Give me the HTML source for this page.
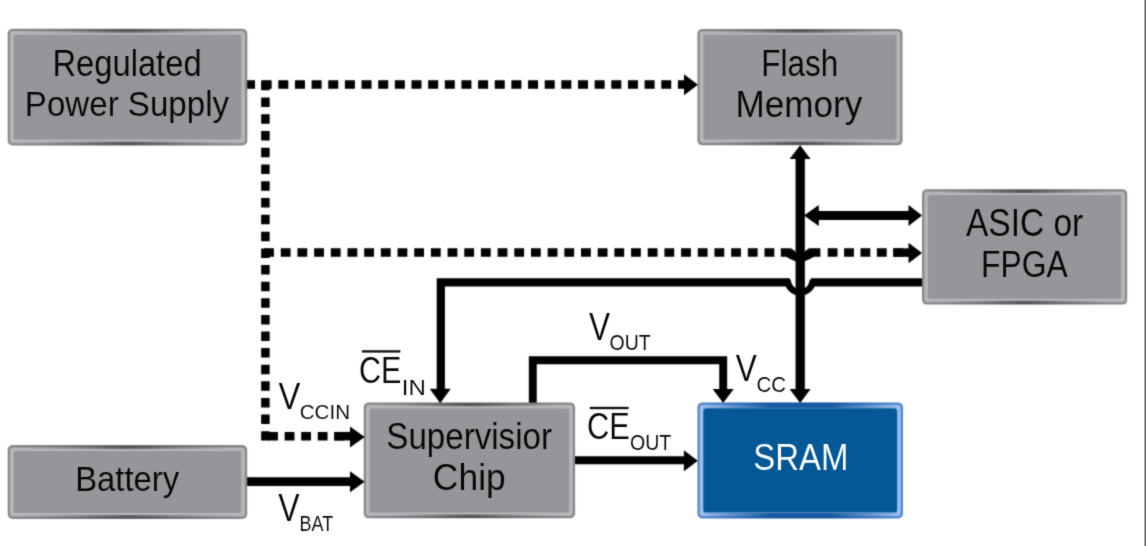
<!DOCTYPE html>
<html lang="en">
<head>
<meta charset="utf-8">
<title>SRAM battery backup block diagram</title>
<style>
html,body{margin:0;padding:0;background:#fff;}
body{width:1146px;height:546px;overflow:hidden;}
svg{display:block;font-family:"Liberation Sans", sans-serif;}
</style>
</head>
<body>
<svg width="1146" height="546" viewBox="0 0 1146 546">
<defs>
<linearGradient id="sheen" x1="0" y1="0" x2="1" y2="0">
<stop offset="0" stop-color="#454648" stop-opacity="0"/>
<stop offset="0.12" stop-color="#454648" stop-opacity="0.1"/>
<stop offset="0.3" stop-color="#454648" stop-opacity="0.38"/>
<stop offset="0.42" stop-color="#424345" stop-opacity="0.64"/>
<stop offset="0.5" stop-color="#3c3d3f" stop-opacity="0.74"/>
<stop offset="0.58" stop-color="#424345" stop-opacity="0.64"/>
<stop offset="0.7" stop-color="#454648" stop-opacity="0.38"/>
<stop offset="0.88" stop-color="#454648" stop-opacity="0.1"/>
<stop offset="1" stop-color="#454648" stop-opacity="0"/>
</linearGradient>
<linearGradient id="bsheen" x1="0" y1="0" x2="1" y2="0">
<stop offset="0" stop-color="#0a4f98" stop-opacity="0"/>
<stop offset="0.12" stop-color="#0a4f98" stop-opacity="0.3"/>
<stop offset="0.35" stop-color="#0a4f98" stop-opacity="0.9"/>
<stop offset="0.65" stop-color="#0a4f98" stop-opacity="0.9"/>
<stop offset="0.88" stop-color="#0a4f98" stop-opacity="0.3"/>
<stop offset="1" stop-color="#0a4f98" stop-opacity="0"/>
</linearGradient>
<filter id="soft" x="-2%" y="-2%" width="104%" height="104%" color-interpolation-filters="sRGB"><feConvolveMatrix order="3" kernelMatrix="0.0289 0.1122 0.0289 0.1122 0.4356 0.1122 0.0289 0.1122 0.0289" edgeMode="duplicate"/></filter>
<filter id="softt" x="-2%" y="-2%" width="104%" height="104%" color-interpolation-filters="sRGB"><feConvolveMatrix order="3" kernelMatrix="0.0144 0.0912 0.0144 0.0912 0.5776 0.0912 0.0144 0.0912 0.0144" edgeMode="duplicate"/></filter>
</defs>
<rect width="1146" height="546" fill="#fff"/>
<g filter="url(#soft)">
<path d="M245.0 84.4 H686" fill="none" stroke="#000" stroke-width="8.5" stroke-dasharray="10 6.65" stroke-dashoffset="0"/>
<path d="M265.4 80.7 V248.4" fill="none" stroke="#000" stroke-width="8.5" stroke-dasharray="9.5 7.27" stroke-dashoffset="0"/>
<path d="M265.4 248.4 V440.5" fill="none" stroke="#000" stroke-width="8.5" stroke-dasharray="9.5 7.12" stroke-dashoffset="0"/>
<path d="M264.1 252.6 H781.0" fill="none" stroke="#000" stroke-width="8.5" stroke-dasharray="9.8 6.88" stroke-dashoffset="0"/>
<path d="M827.7 252.6 H902.9" fill="none" stroke="#000" stroke-width="8.5" stroke-dasharray="9.8 6.6" stroke-dashoffset="0"/>
<path d="M893.3 252.6 H910" fill="none" stroke="#000" stroke-width="8.5"/>
<path d="M780.8 248.35 H790.6 Q793.8 249.4 796.6 253.2 V261.8 Q790.4 259.6 786.0 256.85 H780.8 Z" fill="#000"/>
<path d="M820.4 248.35 H809.4 Q806.2 249.4 803.4 253.2 V261.8 Q809.6 259.6 814.0 256.85 H820.4 Z" fill="#000"/>
<path d="M796 259 Q800 263.5 804 259 Z" fill="#000"/>
<path d="M268.1 436.2 H343.8" fill="none" stroke="#000" stroke-width="8.5" stroke-dasharray="9.8 6.75" stroke-dashoffset="0"/>
<path d="M334.3 436.2 H352" fill="none" stroke="#000" stroke-width="8.5"/>
<path d="M800.2 157 V391" fill="none" stroke="#000" stroke-width="9.3"/>
<path d="M816 215.5 H910" fill="none" stroke="#000" stroke-width="8.9"/>
<path d="M924 282.4 H810.7" fill="none" stroke="#000" stroke-width="8.2"/>
<path d="M790.0 282.4 H440.8 V391" fill="none" stroke="#000" stroke-width="8.2"/>
<path d="M787.50 279.80 A12.7 12.7 0 0 0 812.90 279.80" fill="none" stroke="#000" stroke-width="6.5"/>
<path d="M532.8 404 V360.2 H723.2 V391" fill="none" stroke="#000" stroke-width="7.9"/>
<path d="M573 460.2 H686" fill="none" stroke="#000" stroke-width="8.0"/>
<path d="M246 481.6 H352" fill="none" stroke="#000" stroke-width="8.6"/>
<rect x="7.70" y="28.80" width="239.60" height="116.70" rx="4.8" fill="#87898c"/>
<rect x="10.00" y="31.10" width="235.00" height="112.10" rx="3.2" fill="#b4b6ba"/>
<rect x="10.70" y="29.10" width="233.60" height="3.5" fill="url(#sheen)"/>
<rect x="10.70" y="141.70" width="233.60" height="3.5" fill="url(#sheen)"/>
<rect x="13.60" y="34.70" width="227.80" height="104.90" rx="2.8" fill="#949699"/>
<rect x="697.40" y="28.90" width="205.10" height="116.40" rx="4.8" fill="#87898c"/>
<rect x="699.70" y="31.20" width="200.50" height="111.80" rx="3.2" fill="#b4b6ba"/>
<rect x="700.40" y="29.20" width="199.10" height="3.5" fill="url(#sheen)"/>
<rect x="700.40" y="141.50" width="199.10" height="3.5" fill="url(#sheen)"/>
<rect x="703.30" y="34.80" width="193.30" height="104.60" rx="2.8" fill="#949699"/>
<rect x="922.00" y="189.20" width="205.20" height="115.40" rx="4.8" fill="#87898c"/>
<rect x="924.30" y="191.50" width="200.60" height="110.80" rx="3.2" fill="#b4b6ba"/>
<rect x="925.00" y="189.50" width="199.20" height="3.5" fill="url(#sheen)"/>
<rect x="925.00" y="300.80" width="199.20" height="3.5" fill="url(#sheen)"/>
<rect x="927.90" y="195.10" width="193.40" height="103.60" rx="2.8" fill="#949699"/>
<rect x="7.70" y="445.10" width="239.50" height="73.80" rx="4.8" fill="#87898c"/>
<rect x="10.00" y="447.40" width="234.90" height="69.20" rx="3.2" fill="#b4b6ba"/>
<rect x="10.70" y="445.40" width="233.50" height="3.5" fill="url(#sheen)"/>
<rect x="10.70" y="515.10" width="233.50" height="3.5" fill="url(#sheen)"/>
<rect x="13.60" y="451.00" width="227.70" height="62.00" rx="2.8" fill="#949699"/>
<rect x="363.70" y="402.50" width="211.40" height="115.80" rx="4.8" fill="#87898c"/>
<rect x="366.00" y="404.80" width="206.80" height="111.20" rx="3.2" fill="#b4b6ba"/>
<rect x="366.70" y="402.80" width="205.40" height="3.5" fill="url(#sheen)"/>
<rect x="366.70" y="514.50" width="205.40" height="3.5" fill="url(#sheen)"/>
<rect x="369.60" y="408.40" width="199.60" height="104.00" rx="2.8" fill="#949699"/>
<rect x="697.40" y="402.40" width="205.60" height="116.10" rx="4.8" fill="#5488cc"/>
<rect x="699.70" y="404.70" width="201.00" height="111.50" rx="3.2" fill="#9cbeee"/>
<rect x="700.40" y="402.70" width="199.60" height="5.2" fill="url(#bsheen)"/>
<rect x="700.40" y="513.00" width="199.60" height="5.2" fill="url(#bsheen)"/>
<rect x="703.30" y="408.30" width="193.80" height="104.30" rx="2.8" fill="#045897"/>
<polygon points="697.90,84.80 684.00,74.30 684.00,95.30" fill="#000"/>
<polygon points="922.00,253.00 908.50,242.80 908.50,263.20" fill="#000"/>
<polygon points="364.70,436.90 350.00,426.40 350.00,447.40" fill="#000"/>
<polygon points="800.10,145.20 789.60,159.10 810.60,159.10" fill="#000"/>
<polygon points="800.10,402.90 789.60,389.00 810.60,389.00" fill="#000"/>
<polygon points="804.00,215.50 818.80,205.00 818.80,226.00" fill="#000"/>
<polygon points="922.00,215.50 908.50,205.00 908.50,226.00" fill="#000"/>
<polygon points="440.20,403.30 429.70,388.70 450.70,388.70" fill="#000"/>
<polygon points="723.20,402.90 712.70,389.00 733.70,389.00" fill="#000"/>
<polygon points="697.80,460.70 683.90,450.20 683.90,471.20" fill="#000"/>
<polygon points="364.60,481.80 350.00,471.30 350.00,492.30" fill="#000"/>
</g>
<g filter="url(#softt)">
<text transform="translate(52.42 75.92) scale(0.9076 1)" font-size="36.06" fill="#060606" stroke="#949699" stroke-width="0.12">Regulated</text>
<text transform="translate(24.79 115.86) scale(0.9321 1)" font-size="35.54" fill="#060606" stroke="#949699" stroke-width="0.12">Power Supply</text>
<text transform="translate(761.33 76.26) scale(0.8625 1)" font-size="36.41" fill="#060606" stroke="#949699" stroke-width="0.12">Flash</text>
<text transform="translate(735.43 117.46) scale(0.9658 1)" font-size="36.41" fill="#060606" stroke="#949699" stroke-width="0.12">Memory</text>
<text transform="translate(965.94 235.76) scale(0.8819 1)" font-size="38.00" fill="#060606" stroke="#949699" stroke-width="0.12">ASIC or</text>
<text transform="translate(981.09 277.46) scale(0.8582 1)" font-size="37.13" fill="#060606" stroke="#949699" stroke-width="0.12">FPGA</text>
<text transform="translate(75.21 490.76) scale(0.9127 1)" font-size="35.97" fill="#060606" stroke="#949699" stroke-width="0.12">Battery</text>
<text transform="translate(386.28 449.10) scale(0.9113 1)" font-size="36.37" fill="#060606" stroke="#949699" stroke-width="0.12">Supervisior</text>
<text transform="translate(432.87 490.30) scale(0.9777 1)" font-size="36.23" fill="#060606" stroke="#949699" stroke-width="0.12">Chip</text>
<text transform="translate(753.19 469.98) scale(0.8730 1)" font-size="37.77" fill="#fff" stroke="#045897" stroke-width="0.12">SRAM</text>
<text transform="translate(278.41 409.06) scale(0.8765 1)" font-size="37.42" fill="#060606" stroke="#fff" stroke-width="0.12">V</text>
<text transform="translate(299.73 418.83) scale(0.9828 1)" font-size="20.96" fill="#060606" stroke="#fff" stroke-width="0.08">CCIN</text>
<text transform="translate(278.32 520.56) scale(0.8397 1)" font-size="38.14" fill="#060606" stroke="#fff" stroke-width="0.12">V</text>
<text transform="translate(299.51 531.44) scale(0.8213 1)" font-size="22.00" fill="#060606" stroke="#fff" stroke-width="0.08">BAT</text>
<text transform="translate(358.91 382.70) scale(0.8402 1)" font-size="36.37" fill="#060606" stroke="#fff" stroke-width="0.12">CE</text>
<text transform="translate(401.79 394.54) scale(1.1015 1)" font-size="21.86" fill="#060606" stroke="#fff" stroke-width="0.08">IN</text>
<rect x="362.0" y="350.2" width="38.3" height="2.4" fill="#141414"/>
<text transform="translate(589.02 339.76) scale(0.8276 1)" font-size="38.14" fill="#060606" stroke="#fff" stroke-width="0.12">V</text>
<text transform="translate(609.58 350.42) scale(0.9002 1)" font-size="21.66" fill="#060606" stroke="#fff" stroke-width="0.08">OUT</text>
<text transform="translate(735.72 381.06) scale(0.8372 1)" font-size="37.71" fill="#060606" stroke="#fff" stroke-width="0.12">V</text>
<text transform="translate(756.54 391.72) scale(0.9370 1)" font-size="21.80" fill="#060606" stroke="#fff" stroke-width="0.08">CC</text>
<text transform="translate(586.90 438.60) scale(0.8498 1)" font-size="36.23" fill="#060606" stroke="#fff" stroke-width="0.12">CE</text>
<text transform="translate(629.98 450.21) scale(0.8526 1)" font-size="22.93" fill="#060606" stroke="#fff" stroke-width="0.08">OUT</text>
<rect x="589.8" y="406.8" width="38.8" height="2.4" fill="#141414"/>
</g>
<rect x="1144.45" y="0" width="1.55" height="546" fill="#6b6b6b"/>
</svg>
</body>
</html>
